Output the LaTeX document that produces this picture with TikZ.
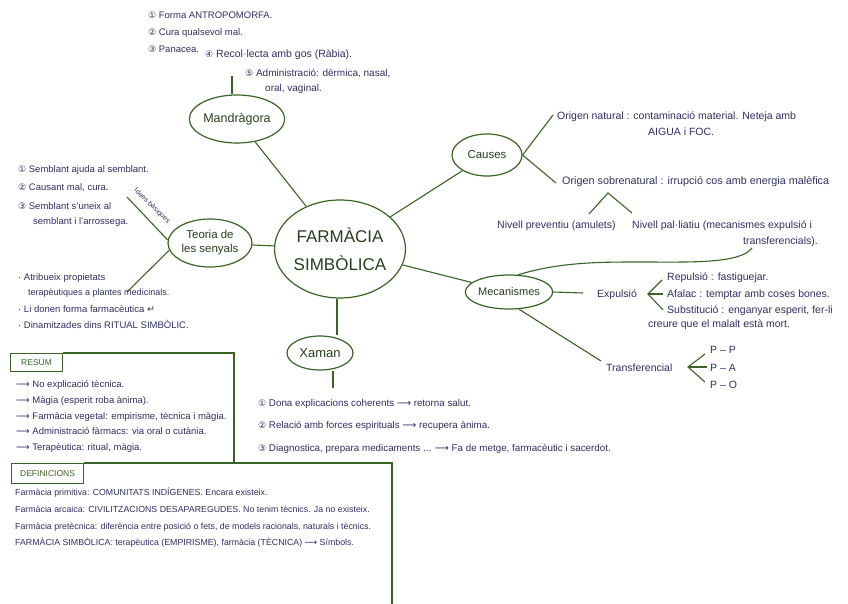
\documentclass[tikz,border=0pt]{standalone}
\usepackage{fontspec}
\setmainfont{Liberation Sans}
\newfontfamily\sym{DejaVu Sans}
\usetikzlibrary{shapes.geometric}
\definecolor{grn}{RGB}{58,100,38}
\definecolor{ink}{RGB}{48,48,96}
\definecolor{ntext}{RGB}{40,62,30}
\newcommand{\cn}[1]{{\sym\small #1}}
\newcommand{\ar}{{\sym ⟶}}
\newcommand{\fs}[1]{\fontsize{#1}{#1}\selectfont}
\tikzset{
  bubble/.style={ellipse, draw=grn, line width=1.2pt, inner sep=0pt, text=ntext, align=center},
  link/.style={draw=grn, line width=1.1pt},
  note/.style={anchor=base west, inner sep=0pt, text=ink, font=\fs{9.5}},
  rnote/.style={note, font=\fs{10.5}},
  defn/.style={anchor=base west, inner sep=0pt, text=ink, font=\fs{8.8}},
  tagbox/.style={draw=grn, line width=1.1pt, text=grn, inner sep=0pt, font=\fs{8.5}}
}
\begin{document}
\begin{tikzpicture}[x=1pt,y=-1pt]
\useasboundingbox (0,0) rectangle (848,604);
\fill[white] (0,0) rectangle (848,604);
% main nodes
\node[bubble, minimum width=126pt, minimum height=98pt, font=\fontsize{17}{28}\selectfont] (c) at (340,249) {FARMÀCIA\\SIMBÒLICA};
\node[bubble, minimum width=90pt, minimum height=48pt, font=\fs{12.5}] (m) at (237,119) {Mandràgora};
\node[bubble, minimum width=84pt, minimum height=48pt, font=\fontsize{11.5}{14}\selectfont] (t) at (210,243) {Teoria de\\les senyals};
\node[bubble, minimum width=70pt, minimum height=42pt, font=\fs{11.5}] (ca) at (487,155) {Causes};
\node[bubble, minimum width=78pt, minimum height=34pt, font=\fs{11}] (me) at (509,292) {Mecanismes};
\node[bubble, minimum width=66pt, minimum height=34pt, font=\fs{13}] (x) at (320,353) {Xaman};
% main links
\draw[link] (m) -- (c);
\draw[link] (t) -- (c);
\draw[link] (c) -- (ca);
\draw[link] (c) -- (me);
\coordinate (cs) at (337,290);
\draw[link] (c.south -| cs) -- (x.north -| cs);
% Mandragora notes
\coordinate (mt) at (232,76);
\draw[link] (m.north -| mt) -- (mt);
\node[note] (m1) at (148,19) {\cn{①} Forma ANTROPOMORFA.};
\node[note] (m2) at (148,36) {\cn{②} Cura qualsevol mal.};
\node[note] (m3) at (148,53) {\cn{③} Panacea.};
\node[note, font=\fs{10.5}] (m4) at (205,58) {\cn{④} Recol·lecta amb gos (Ràbia).};
\node[note, font=\fs{10}] (m5) at (245,77) {\cn{⑤} Administració: dèrmica, nasal,};
\node[note, font=\fs{10}] (m6) at (265,92) {oral, vaginal.};
% Teoria notes
\coordinate (tu) at (127,197);
\coordinate (td) at (127,292);
\draw[link] (tu) -- (t.176);
\node[rotate=-44, inner sep=0pt, text=ink, font=\fs{7}] (ib) at (152,206) {Idees bàsiques};
\draw[link] (t.190) -- (td);
\node[note] (t1) at (18,173) {\cn{①} Semblant ajuda al semblant.};
\node[note] (t2) at (18,190) {\cn{②} Causant mal, cura.};
\node[note] (t3) at (18,209) {\cn{③} Semblant s'uneix al};
\node[note] (t4) at (33,224) {semblant i l'arrossega.};
\node[note] (t5) at (18,280) {· Atribueix propietats};
\node[note, font=\fs{9}] (t6) at (28,295) {terapèutiques a plantes medicinals.};
\node[note] (t7) at (18,312) {· Li donen forma farmacèutica {\sym ↵}};
\node[note] (t8) at (18,328) {· Dinamitzades dins RITUAL SIMBÒLIC.};
% Causes
\coordinate (cu) at (553,115);
\coordinate (cd) at (556,183);
\draw[link] (ca.east) -- (cu);
\draw[link] (ca.east) -- (cd);
\node[rnote] (o1) at (557,120) {Origen natural : contaminació material. Neteja amb};
\node[rnote] (o2) at (648,136) {AIGUA i FOC.};
\node[rnote, font=\fs{10.8}] (o3) at (562,185) {Origen sobrenatural : irrupció cos amb energia malèfica};
\coordinate (sf) at (608,193);
\coordinate (sl) at (589,214);
\coordinate (sr) at (632,213);
\draw[link] (sl) -- (sf) -- (sr);
\node[rnote] (n1) at (497,228) {Nivell preventiu (amulets)};
\node[rnote] (n2) at (632,228) {Nivell pal·liatiu (mecanismes expulsió i};
\node[rnote, anchor=base east] (n3) at (818,244) {transferencials).};
% Mecanismes
\draw[link] (me.62) .. controls (560,262) and (600,262) .. (640,262) .. controls (690,262) and (740,264) .. (752,248);
\coordinate (ex) at (583,293);
\draw[link] (me.east) -- (ex);
\node[rnote] (exp) at (597,297) {Expulsió};
\coordinate (ev) at (648,294);
\draw[link] (662,280) -- (ev) -- (663,310);
\draw[link] (ev) -- (663,294);
\node[rnote] (e1) at (667,280) {Repulsió : fastiguejar.};
\node[rnote] (e2) at (667,297) {Afalac : temptar amb coses bones.};
\node[rnote] (e3) at (667,313) {Substitució : enganyar esperit, fer-li};
\node[rnote] (e4) at (648,327) {creure que el malalt està mort.};
\coordinate (tr) at (601,361);
\draw[link] (me.300) -- (tr);
\node[rnote] (trn) at (606,371) {Transferencial};
\coordinate (tv) at (688,367);
\draw[link] (705,354) -- (tv) -- (705,382);
\draw[link] (tv) -- (707,367);
\node[rnote] (p1) at (710,353) {P -- P};
\node[rnote] (p2) at (710,371) {P -- A};
\node[rnote] (p3) at (710,388) {P -- O};
% Xaman
\coordinate (xb) at (333,388);
\draw[link] (x.south -| xb) -- (xb);
\node[note, font=\fs{9.8}] (x1) at (258,406) {\cn{①} Dona explicacions coherents \ar\ retorna salut.};
\node[note, font=\fs{9.8}] (x2) at (258,428) {\cn{②} Relació amb forces espirituals \ar\ recupera ànima.};
\node[note, font=\fs{9.8}] (x3) at (258,451) {\cn{③} Diagnostica, prepara medicaments ... \ar\ Fa de metge, farmacèutic i sacerdot.};
% RESUM
\node[tagbox, minimum width=52pt, minimum height=18pt, anchor=north west] (rt) at (10,353) {RESUM};
\coordinate (rc) at (234,353);
\coordinate (rb) at (234,463);
\draw[link] (rt.north east) -- (rc) -- (rb);
\node[note] (r1) at (16,387) {\ar\ No explicació tècnica.};
\node[note] (r2) at (16,403) {\ar\ Màgia (esperit roba ànima).};
\node[note] (r3) at (16,419) {\ar\ Farmàcia vegetal: empirisme, tècnica i màgia.};
\node[note] (r4) at (16,434) {\ar\ Administració fàrmacs: via oral o cutània.};
\node[note] (r5) at (16,450) {\ar\ Terapèutica: ritual, màgia.};
% DEFINICIONS
\node[tagbox, minimum width=72pt, minimum height=20pt, anchor=north west] (dt) at (11,463) {DEFINICIONS};
\coordinate (dc) at (392,463);
\coordinate (db) at (392,604);
\draw[link] (dt.north east) -- (dc) -- (db);
\node[defn] (d1) at (15,495) {Farmàcia primitiva: COMUNITATS INDÍGENES. Encara existeix.};
\node[defn] (d2) at (15,512) {Farmàcia arcaica: CIVILITZACIONS DESAPAREGUDES. No tenim tècnics. Ja no existeix.};
\node[defn] (d3) at (15,529) {Farmàcia pretècnica: diferència entre posició o fets, de models racionals, naturals i tècnics.};
\node[defn] (d4) at (15,545) {FARMÀCIA SIMBÒLICA: terapèutica (EMPIRISME), farmàcia (TÈCNICA) \ar\ Símbols.};
\end{tikzpicture}
\end{document}
